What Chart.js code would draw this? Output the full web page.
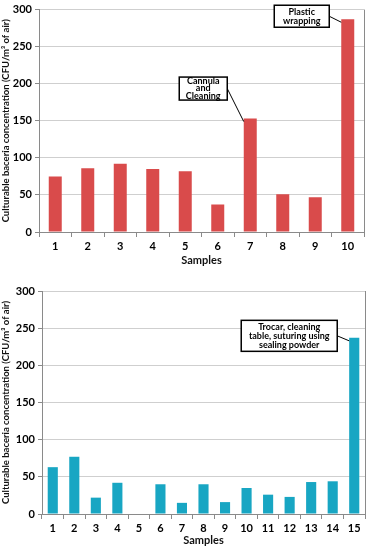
<!DOCTYPE html>
<html>
<head>
<meta charset="utf-8">
<script src="https://cdn.jsdelivr.net/npm/chart.js@4"></script>
<style>
  html, body { margin: 0; padding: 0; background: #fff; }
  .panel { position: absolute; left: 0; width: 371px; }
  #top { top: 0; height: 270px; }
  #bottom { top: 275px; height: 275px; }
</style>
</head>
<body>
<div class="panel" id="top"><canvas id="chart-top"></canvas></div>
<div class="panel" id="bottom"><canvas id="chart-bottom"></canvas></div>
<script>
const topSamples = ['1', '2', '3', '4', '5', '6', '7', '8', '9', '10'];
const topValues = [75, 86, 92, 85, 82, 37, 153, 51, 47, 287];
const bottomSamples = ['1', '2', '3', '4', '5', '6', '7', '8', '9', '10', '11', '12', '13', '14', '15'];
const bottomValues = [63, 77, 22, 42, 0, 40, 15, 40, 16, 35, 26, 23, 43, 44, 237];
const yTicks = [0, 50, 100, 150, 200, 250, 300];
const yTitle = 'Culturable baceria concentration (CFU/m\u00B3 of air)';
const xTitle = 'Samples';

const topNotes = [
    { index: 9, lines: ['Plastic', 'wrapping'], dx: -46, dy: -3, w: 55, h: 22, lh: 9 },
    { index: 6, lines: ['Cannula', 'and', 'Cleaning'], dx: -47, dy: -30, w: 48, h: 23, lh: 7.5 },
];
const bottomNotes = [
    { index: 14, lines: ['Trocar, cleaning', 'table, suturing using', 'sealing powder'], dx: -65, dy: -2, w: 96, h: 31, lh: 9 },
];

const FONT = 'Lato';
const AXIS = '#8a8a8a';
const GRID = '#cfcfcf';

const notePlugin = {
    id: 'notes',
    afterDatasetsDraw(chart, args, opts) {
        const ctx = chart.ctx;
        const meta = chart.getDatasetMeta(0);
        ctx.save();
        (opts.notes || []).forEach(n => {
            const bar = meta.data[n.index];
            const cx = bar.x + n.dx;
            const cy = bar.y + n.dy;
            const left = cx - n.w / 2;
            const topY = cy - n.h / 2;
            // leader line to the bar
            ctx.strokeStyle = '#000';
            ctx.lineWidth = 1;
            ctx.beginPath();
            ctx.moveTo(left + n.w, cy);
            ctx.lineTo(bar.x - bar.width / 2, bar.y + 3);
            ctx.stroke();
            ctx.fillStyle = '#fff';
            ctx.fillRect(left, topY, n.w, n.h);
            ctx.lineWidth = 1.5;
            ctx.strokeRect(left, topY, n.w, n.h);
            ctx.fillStyle = '#000';
            ctx.font = 'bold 9px ' + FONT;
            ctx.textAlign = 'center';
            ctx.textBaseline = 'middle';
            const start = cy - (n.lines.length - 1) * n.lh / 2;
            n.lines.forEach((t, i) => ctx.fillText(t, cx, start + i * n.lh));
        });
        ctx.restore();
    },
};

const framePlugin = {
    id: 'frame',
    afterDraw(chart) {
        const { ctx, chartArea: a } = chart;
        ctx.save();
        ctx.strokeStyle = AXIS;
        ctx.lineWidth = 1;
        ctx.beginPath();
        ctx.moveTo(Math.round(a.right) + 0.5, a.top);
        ctx.lineTo(Math.round(a.right) + 0.5, a.bottom);
        ctx.stroke();
        ctx.restore();
    },
};

function barChart(id, labels, values, color, notes, cfg) {
    const el = document.getElementById(id);
    return new Chart(el, {
        type: 'bar',
        data: {
            labels,
            datasets: [{
                data: values,
                backgroundColor: color,
                borderWidth: 0,
                barPercentage: cfg.barPct,
                categoryPercentage: 1,
            }],
        },
        options: {
            responsive: true,
            maintainAspectRatio: false,
            animation: false,
            events: [],
            layout: { padding: cfg.padding },
            plugins: {
                legend: { display: false },
                tooltip: { enabled: false },
                notes: { notes },
            },
            scales: {
                x: {
                    grid: { offset: true, drawOnChartArea: false, color: AXIS, tickLength: 5 },
                    border: { color: AXIS },
                    ticks: { color: '#000', font: { family: FONT, size: 11, weight: 'bold' }, padding: 3, maxRotation: 0 },
                    title: { display: true, text: xTitle, color: '#111', font: { family: FONT, size: 11, weight: 'bold' }, padding: { top: 0, bottom: 0 } },
                    afterFit: s => { s.height = cfg.xHeight; },
                },
                y: {
                    min: 0,
                    max: 300,
                    afterBuildTicks: s => { s.ticks = yTicks.map(v => ({ value: v })); },
                    grid: { color: GRID, tickLength: 4, tickColor: AXIS },
                    border: { color: AXIS },
                    ticks: { color: '#000', font: { family: FONT, size: 11, weight: 'bold' }, padding: 3 },
                    title: { display: true, text: yTitle, color: '#111', font: { family: FONT, size: 9.5, weight: 'bold' }, padding: { top: 0, bottom: 2 } },
                    afterFit: s => { s.width = cfg.yWidth; },
                },
            },
        },
        plugins: [notePlugin, framePlugin],
    });
}

barChart('chart-top', topSamples, topValues, '#d94b4b', topNotes,
    { barPct: 0.4, padding: { top: 8, right: 7, bottom: 3, left: 0 }, xHeight: 35, yWidth: 39 });
barChart('chart-bottom', bottomSamples, bottomValues, '#18a6c3', bottomNotes,
    { barPct: 0.47, padding: { top: 16, right: 6, bottom: 3, left: 0 }, xHeight: 33, yWidth: 42 });
</script>
</body>
</html>
